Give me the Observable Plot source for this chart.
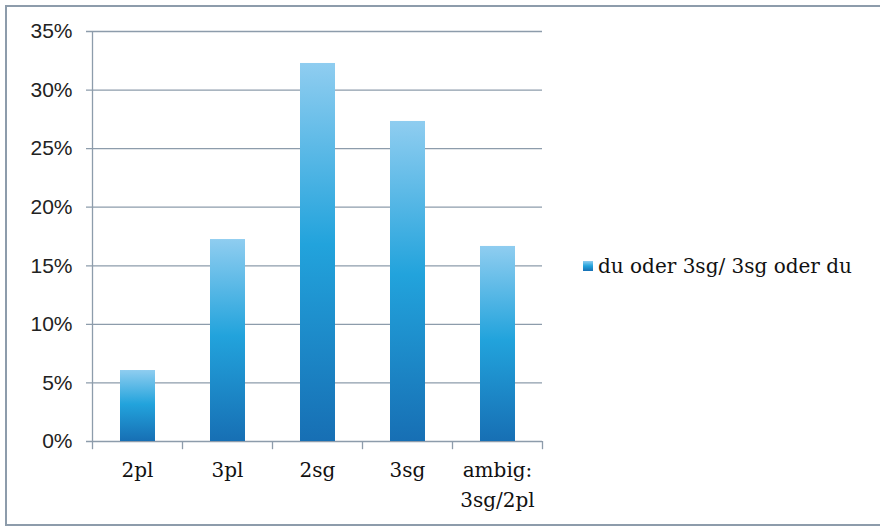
<!DOCTYPE html>
<html>
<head>
<meta charset="utf-8">
<script src="https://cdn.jsdelivr.net/npm/d3@7"></script>
<script src="https://cdn.jsdelivr.net/npm/@observablehq/plot@0.6"></script>
<style>
  body { margin: 0; background: #fff; }
  #wrap { position: relative; width: 880px; height: 529px; overflow: hidden; background: #fff; }
  #frame { position: absolute; left: 5px; top: 5px; width: 900px; height: 521px; border: 2px solid #8d9cab; box-sizing: border-box; pointer-events: none; }
  #legend { position: absolute; left: 583px; top: 254px; font-family: "DejaVu Serif", serif; font-size: 20px; color: #111; display: flex; align-items: center; white-space: nowrap; }
  #legend .sw { width: 10px; height: 10px; margin-right: 5px; background: linear-gradient(#8fcdf0, #22a3dc 50%, #176fb4); }
</style>
</head>
<body>
<div id="wrap">
  <div id="chart"></div>
  <div id="legend"><span class="sw"></span><span>du oder 3sg/ 3sg oder du</span></div>
  <div id="frame"></div>
</div>
<script>
const categories = ["2pl", "3pl", "2sg", "3sg", "ambig:\n3sg/2pl"];
const values = [0.0606, 0.1724, 0.3227, 0.2732, 0.1665];
const yTicks = [0, 0.05, 0.10, 0.15, 0.20, 0.25, 0.30, 0.35];
const seriesName = "du oder 3sg/ 3sg oder du";

const data = categories.map((c, i) => ({cat: c, i, value: values[i]}));
const bounds = d3.range(categories.length + 1);
const grid = "#8d9cab";

const plot = Plot.plot({
  width: 880,
  height: 529,
  marginLeft: 92,
  marginRight: 338,
  marginTop: 31,
  marginBottom: 88,
  x: {type: "linear", domain: [0, categories.length], axis: null},
  y: {domain: [0, 0.35], axis: null},
  marks: [
    Plot.ruleY(yTicks, {y: d => d, stroke: grid, strokeWidth: 1.3, insetLeft: -6}),
    Plot.ruleX([0], {y1: 0, y2: 0.35, stroke: grid, strokeWidth: 1.3}),
    Plot.ruleX(bounds, {x: d => d, y1: 0, y2: -0.007, stroke: grid, strokeWidth: 1.3}),
    Plot.rectY(data, {x1: d => d.i, x2: d => d.i + 1, y: "value", insetLeft: 28, insetRight: 27, fill: "url(#barGrad)"}),
    Plot.text(yTicks, {x: 0, y: d => d, text: d => d3.format(".0%")(d), textAnchor: "end", dx: -20, fontSize: 21, fontFamily: "Liberation Sans, Arial, sans-serif", fill: "#222"}),
    Plot.text(data, {x: d => d.i + 0.5, y: 0, text: "cat", lineAnchor: "top", dy: 14, lineHeight: 1.5, fontSize: 20, fontFamily: "DejaVu Serif, serif", fill: "#111"})
  ]
});

const ns = "http://www.w3.org/2000/svg";
const defs = document.createElementNS(ns, "defs");
const grad = document.createElementNS(ns, "linearGradient");
grad.setAttribute("id", "barGrad");
grad.setAttribute("x1", "0"); grad.setAttribute("y1", "0");
grad.setAttribute("x2", "0"); grad.setAttribute("y2", "1");
[["0", "#8fcdf0"], ["0.48", "#22a3dc"], ["1", "#176fb4"]].forEach(([o, c]) => {
  const s = document.createElementNS(ns, "stop");
  s.setAttribute("offset", o);
  s.setAttribute("stop-color", c);
  grad.appendChild(s);
});
defs.appendChild(grad);
plot.insertBefore(defs, plot.firstChild);
document.getElementById("chart").appendChild(plot);
</script>
</body>
</html>
